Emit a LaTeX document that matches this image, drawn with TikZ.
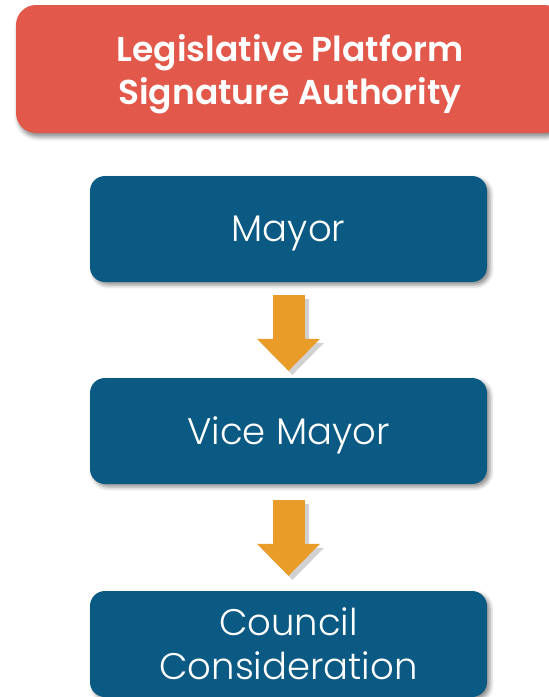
\documentclass[tikz,border=0pt]{standalone}
\usepackage{fontspec}
\setmainfont{Poppins}[UprightFont=* Light, BoldFont=* SemiBold]
\usetikzlibrary{arrows.meta,shadows.blur}
\definecolor{titlered}{HTML}{E2594C}
\definecolor{stepblue}{HTML}{0B5A84}
\definecolor{flowgold}{HTML}{E99C27}

\begin{document}
\begin{tikzpicture}[x=1pt, y=-1pt,
    title/.style={rectangle, fill=titlered, rounded corners=20pt, minimum width=548pt, minimum height=128pt, align=center, text depth=0pt, text=white, font=\bfseries\fontsize{34.5}{43}\selectfont, blur shadow={shadow xshift=2pt, shadow yshift=-4pt, shadow blur radius=4pt, shadow opacity=45}},
    stepbox/.style={rectangle, fill=stepblue, rounded corners=15pt, minimum width=397pt, minimum height=106pt, align=center, text depth=0pt, text=white, font=\fontsize{37}{44}\selectfont, blur shadow={shadow xshift=3pt, shadow yshift=-3pt, shadow blur radius=4pt, shadow opacity=45}},
    flow/.style={draw=flowgold, line width=32pt, -{Triangle[width=63pt, length=32pt, line width=0pt]}},
    flowshade/.style={flow, draw=black!18, transform canvas={shift={(4pt,-4pt)}}}
]
\useasboundingbox (0,0) rectangle (549,697);

% Title
\node[title] (title) at (290,69) {Legislative Platform\\Signature Authority};

% Steps
\node[stepbox] (mayor) at (288.5,229) {Mayor};
\node[stepbox] (vice) at (288.5,431) {Vice Mayor};
\node[stepbox] (council) at (288.5,644) {Council\\Consideration};

% Arrows
\draw[flowshade, shorten <=13pt, shorten >=7pt] (mayor) -- (vice);
\draw[flow, shorten <=13pt, shorten >=7pt] (mayor) -- (vice);
\draw[flowshade, shorten <=16pt, shorten >=15pt] (vice) -- (council);
\draw[flow, shorten <=16pt, shorten >=15pt] (vice) -- (council);

\end{tikzpicture}
\end{document}
